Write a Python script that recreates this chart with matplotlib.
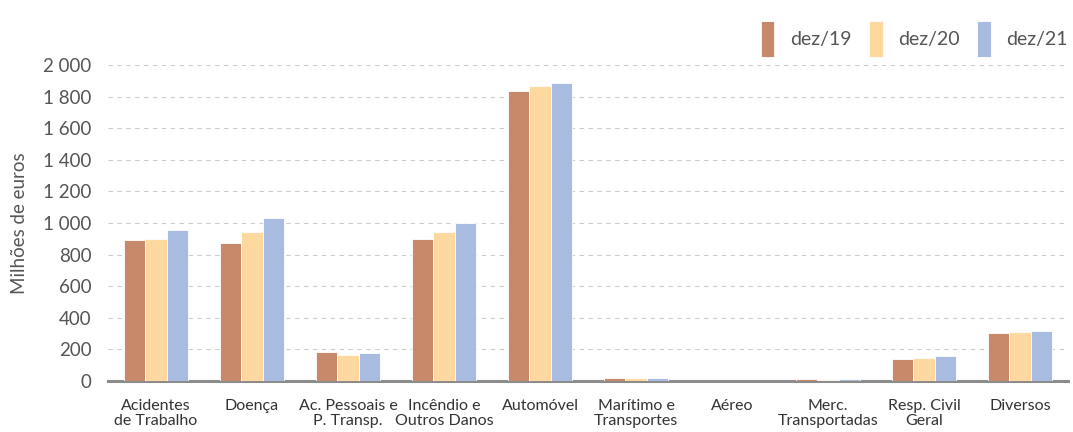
import numpy as np
import matplotlib
matplotlib.use('Agg')
from matplotlib import pyplot as plt

plt.rcParams['font.family'] = ['Lato', 'DejaVu Sans']

categorias = ['Acidentes\nde Trabalho', 'Doença', 'Ac. Pessoais e\nP. Transp.',
              'Incêndio e\nOutros Danos', 'Automóvel', 'Marítimo e\nTransportes',
              'Aéreo', 'Merc.\nTransportadas', 'Resp. Civil\nGeral', 'Diversos']
dez19 = [893, 872, 186, 900, 1835, 22, 2, 12, 137, 303]
dez20 = [900, 945, 165, 945, 1868, 20, 2, 9, 145, 310]
dez21 = [957, 1030, 178, 1002, 1888, 22, 2, 11, 158, 318]
series = ['dez/19', 'dez/20', 'dez/21']
cores = ['#C8896A', '#FDD9A0', '#A7BCE0']
yticks = [0, 200, 400, 600, 800, 1000, 1200, 1400, 1600, 1800, 2000]
ylabels = ['0', '200', '400', '600', '800', '1 000', '1 200', '1 400', '1 600', '1 800', '2 000']

texto = '#555555'
fig = plt.figure(figsize=(10.73, 4.32), dpi=100)
ax = fig.add_axes([108/1073, 1 - 381/432, 960/1073, 316/432])

x = np.arange(len(categorias))
w = 0.22
for i, (vals, nome, cor) in enumerate(zip([dez19, dez20, dez21], series, cores)):
    ax.bar(x + (i - 1) * w, vals, w, color=cor, label=nome,
           edgecolor='white', linewidth=0.6, zorder=3)

ax.set_xlim(-0.5, len(categorias) - 0.5)
ax.set_ylim(0, 2000)
ax.set_yticks(yticks)
ax.set_yticklabels(ylabels, fontsize=13.5, color=texto)
ax.set_xticks(x)
ax.set_xticklabels(categorias, fontsize=11.5, color='#333333', linespacing=1.1)
ax.tick_params(axis='both', length=0)
ax.tick_params(axis='x', pad=13)
ax.tick_params(axis='y', pad=12)
ax.yaxis.grid(True, linestyle=(0, (4, 4)), color='#cccccc', linewidth=0.8, zorder=0)
for s in ['top', 'right', 'left']:
    ax.spines[s].set_visible(False)
ax.spines['bottom'].set_color('#8c8c8c')
ax.spines['bottom'].set_linewidth(2.2)
ax.spines['bottom'].set_zorder(2)
ax.set_ylabel('Milhões de euros', fontsize=13.5, color=texto)
ax.yaxis.set_label_coords(-80/960, 0.5)

ax.legend(loc='upper right', bbox_to_anchor=(1.008, 1.165), ncol=3, frameon=False,
          fontsize=14, handlelength=0.7, handleheight=2.5, columnspacing=0.9,
          handletextpad=0.8, labelcolor=texto, borderaxespad=0)

plt.savefig('out.png', dpi=100)
